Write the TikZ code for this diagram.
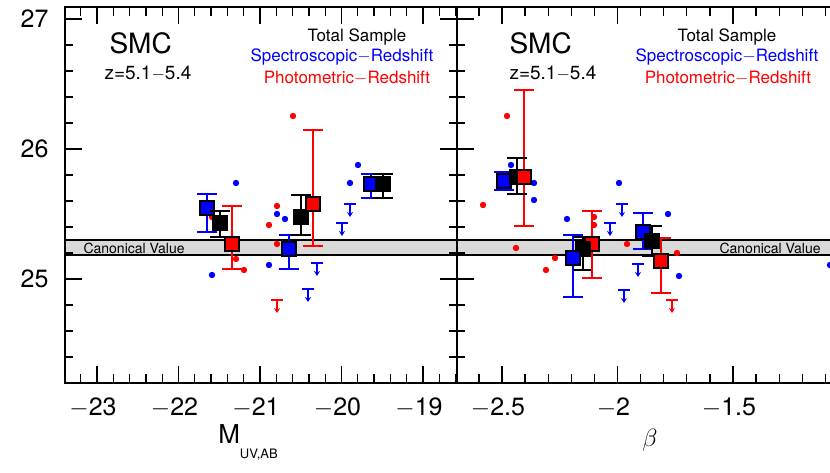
\documentclass[tikz,border=0pt]{standalone}
\usepackage{fontspec}
\setmainfont{TeX Gyre Heros}
\usetikzlibrary{arrows.meta}
\definecolor{specblue}{RGB}{0,0,255}
\definecolor{photred}{RGB}{255,0,0}
\newcommand{\ebar}[4]{\draw [#1, line width=1.4pt] (#2-10,#3) -- (#2+10,#3) (#2,#3) -- (#2,#4) (#2-10,#4) -- (#2+10,#4);}
\newcommand{\msq}[3]{\node [sqmark, fill=#1] at (#2,#3) {};}
\newcommand{\pdot}[3]{\fill [#1] (#2,#3) circle (3.2);}
\newcommand{\ulim}[3]{\draw [#1, line width=1.3pt, -{Stealth[length=5pt,width=6pt]}] (#2-6,#3) -- (#2+6,#3) (#2,#3) -- (#2,#3+13);}

\begin{document}
\begin{tikzpicture}[x=1pt, y=-1pt,
  sqmark/.style={draw=black, line width=1.6pt, minimum size=14pt, inner sep=0pt},
  ticklab/.style={font=\fontsize{25}{25}\selectfont},
  legend/.style={font=\fontsize{17}{17}\selectfont}]
\useasboundingbox (0,0) rectangle (830,473);

% canonical band
\fill [black!15] (65,240) rectangle (830,255);
\draw [line width=1.2pt] (65,240) -- (830,240) (65,255) -- (830,255);
\node [anchor=west, font=\fontsize{14}{14}\selectfont] (canl) at (80,248) {Canonical Value};
\node [anchor=west, font=\fontsize{14}{14}\selectfont] (canr) at (716,248) {Canonical Value};

% frame
\draw [line width=1.6pt] (830,7) -- (65,7) -- (65,383) -- (830,383);
\draw [line width=1.6pt] (457,7) -- (457,383);

% y ticks
\foreach \v in {24.4,24.6,...,27.0} {
  \pgfmathsetmacro{\py}{279-130*(\v-25)}
  \draw [line width=1.3pt] (65,\py) -- (73,\py) (457,\py) -- (449,\py) (457,\py) -- (465,\py);
}
\foreach \v in {25,26,27} {
  \pgfmathsetmacro{\py}{279-130*(\v-25)}
  \draw [line width=1.3pt] (65,\py) -- (82,\py) (457,\py) -- (440,\py) (457,\py) -- (474,\py);
  \node [ticklab, anchor=east] at (52,\py) {\v};
}
% x ticks, left panel
\foreach \m in {-23.2,-23.0,...,-18.6} {
  \pgfmathsetmacro{\px}{97+81.5*(\m+23)}
  \draw [line width=1.3pt] (\px,383) -- (\px,374) (\px,7) -- (\px,16);
}
\foreach \m/\t in {-23/23,-22/22,-21/21,-20/20,-19/19} {
  \pgfmathsetmacro{\px}{97+81.5*(\m+23)}
  \draw [line width=1.3pt] (\px,383) -- (\px,366) (\px,7) -- (\px,24);
  \node [ticklab, anchor=north] at (\px-4,394) {$-$\t};
}
% x ticks, right panel
\foreach \b in {-2.6,-2.5,...,-1.05} {
  \pgfmathsetmacro{\px}{502+231*(\b+2.5)}
  \draw [line width=1.3pt] (\px,383) -- (\px,374) (\px,7) -- (\px,16);
}
\foreach \b/\t in {-2.5/2.5,-2/2,-1.5/1.5} {
  \pgfmathsetmacro{\px}{502+231*(\b+2.5)}
  \draw [line width=1.3pt] (\px,383) -- (\px,366) (\px,7) -- (\px,24);
  \node [ticklab, anchor=north] at (\px-4,394) {$-$\t};
}
\node [font=\fontsize{26}{26}\selectfont] (xlab) at (248,442) {M\raisebox{-1.1ex}{\fontsize{13}{13}\selectfont UV,AB}};
\node [font=\fontsize{26}{26}\selectfont] (blab) at (650,440) {$\beta$};

% labels
\node [anchor=west, font=\fontsize{28}{28}\selectfont] (smcl) at (106,43) {SMC};
\node [anchor=west, font=\fontsize{19}{19}\selectfont] (zl) at (101,73) {z=5.1$-$5.4};
\node [legend] (totl) at (357,37) {Total Sample};
\node [legend, text=specblue] (specl) at (342,57) {Spectroscopic$-$Redshift};
\node [legend, text=photred] (photl) at (347,78) {Photometric$-$Redshift};
\node [anchor=west, font=\fontsize{28}{28}\selectfont] (smcr) at (506,43) {SMC};
\node [anchor=west, font=\fontsize{19}{19}\selectfont] (zr) at (506,73) {z=5.1$-$5.4};
\node [legend] (totr) at (727,37) {Total Sample};
\node [legend, text=specblue] (specr) at (727,57) {Spectroscopic$-$Redshift};
\node [legend, text=photred] (photr) at (728,78) {Photometric$-$Redshift};

% left panel points
\foreach \x/\y in {236/183,212/275,277/214,285/219,269/265,350/183,358/165} {\pdot{specblue}{\x}{\y}}
\foreach \x/\y in {293/116,277/206,269/225,277/244,236/259,244/270,212/217} {\pdot{photred}{\x}{\y}}
\foreach \x/\y in {350/204,342/223,317/263,308/289} {\ulim{specblue}{\x}{\y}}
\ulim{photred}{277}{300}
\ebar{specblue}{207}{194}{232} \msq{specblue}{207}{208}
\ebar{black}{220}{211}{237} \msq{black}{220}{223}
\ebar{photred}{232}{206}{269} \msq{photred}{232}{244}
\ebar{specblue}{289}{235}{269} \msq{specblue}{289}{249}
\ebar{black}{301}{195}{235} \msq{black}{301}{217}
\ebar{photred}{313}{130}{246} \msq{photred}{313}{204}
\ebar{specblue}{371}{174}{198} \ebar{black}{383}{174}{198}
\msq{specblue}{371}{184} \msq{black}{383}{184}

% right panel points
\foreach \x/\y in {511/165,534/183,534/200,567/219,619/183,668/214,679/276,830/265} {\pdot{specblue}{\x}{\y}}
\foreach \x/\y in {507/116,483/205,516/248,546/270,555/258,594/217,594/225,627/244,677/253} {\pdot{photred}{\x}{\y}}
\foreach \x/\y in {622/204,610/223,638/264,624/290} {\ulim{specblue}{\x}{\y}}
\ulim{photred}{672}{300}
\ebar{photred}{524}{90}{226} \ebar{black}{517}{158}{194} \ebar{specblue}{504}{172}{190}
\msq{specblue}{504}{181} \msq{black}{517}{177} \msq{photred}{524}{177}
\ebar{specblue}{573}{235}{297} \ebar{black}{583}{237}{270} \ebar{photred}{592}{211}{278}
\msq{photred}{592}{244} \msq{black}{583}{249} \msq{specblue}{573}{258}
\ebar{specblue}{643}{213}{249} \ebar{black}{652}{226}{256} \ebar{photred}{661}{238}{293}
\msq{specblue}{643}{232} \msq{black}{652}{241} \msq{photred}{661}{261}
\end{tikzpicture}
\end{document}
